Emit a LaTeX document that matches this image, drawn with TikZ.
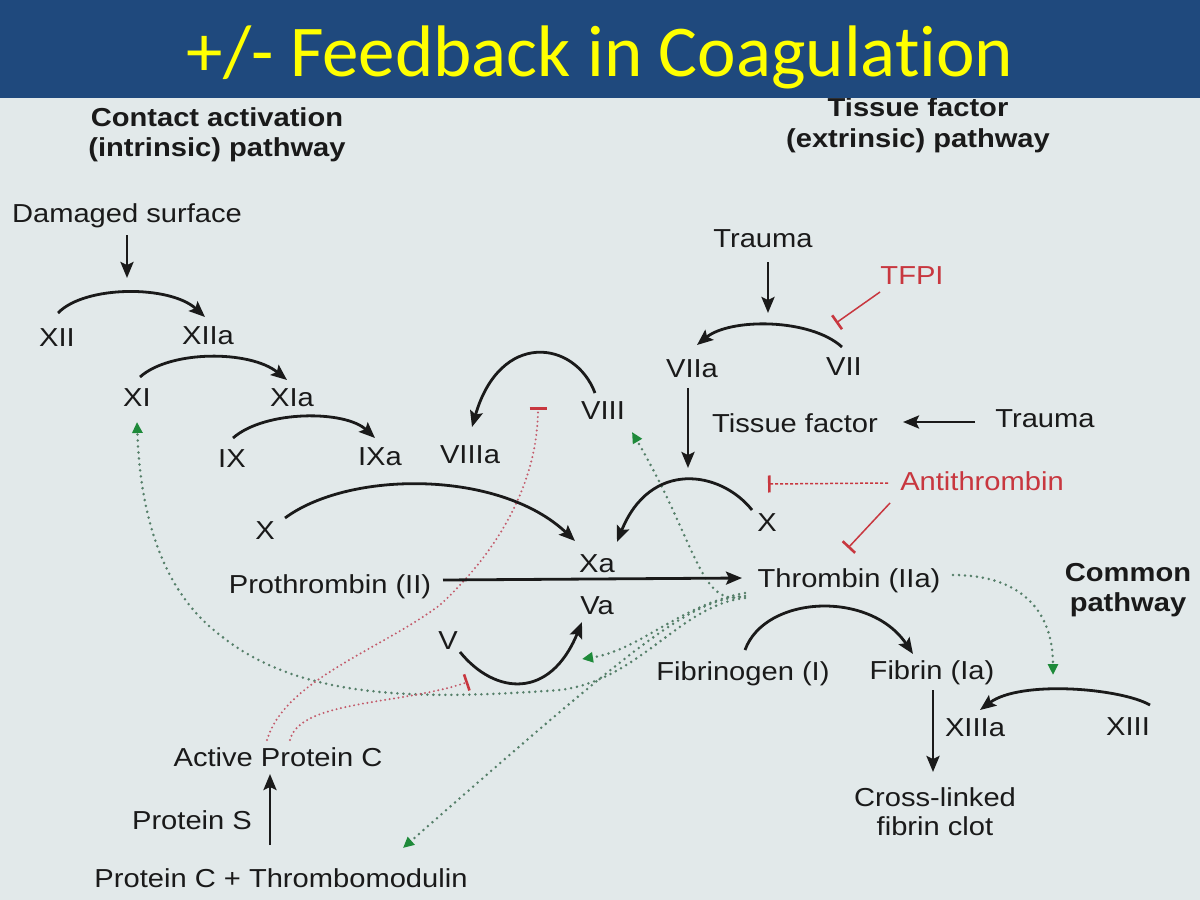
\documentclass[tikz,border=0pt]{standalone}
\usepackage{fontspec}
\setmainfont{Liberation Sans}[FakeStretch=1.12]
\newfontfamily\titlefont{Carlito}[Ligatures={NoCommon,NoRare},Contextuals=NoAlternate]
\usetikzlibrary{arrows.meta,calc}
\definecolor{bgc}{HTML}{E2E9EA}
\definecolor{barc}{HTML}{1F497D}
\definecolor{ink}{HTML}{1A1A1A}
\definecolor{redc}{HTML}{C8373F}
\definecolor{reddot}{HTML}{C35A6A}
\definecolor{grndot}{HTML}{557F69}
\definecolor{grntip}{HTML}{1E8A3A}
\definecolor{ttl}{HTML}{FFFF00}
\tikzset{
  lbl/.style={font=\fontsize{26}{30}\selectfont, text=ink, inner sep=0pt, anchor=base},
  hdr/.style={lbl, font=\fontsize{26}{30}\selectfont\bfseries},
  redlbl/.style={lbl, text=redc},
  conv/.style={draw=ink, line width=2.8pt, -{Stealth[length=16pt,width=13pt,inset=3pt]}},
  inhib/.style={draw=redc, line width=1.5pt, -{Bar[width=17pt,line width=2.6pt]}},
  inhibdash/.style={inhib, dash pattern=on 3pt off 2pt},
  apcdot/.style={draw=reddot, line width=2.2pt, line cap=round, dash pattern=on 0pt off 4.5pt, -{Bar[width=17pt,line width=2.6pt,color=redc]}},
  thrdot/.style={draw=grndot, line width=2.8pt, line cap=round, dash pattern=on 0pt off 6pt, -{Triangle[length=11pt,width=10pt,color=grntip]}}
}
\begin{document}
\begin{tikzpicture}[x=1pt,y=-1pt]
\useasboundingbox (0,0) rectangle (1200,900);
\fill[bgc] (0,0) rectangle (1200,900);

% headers
\node[hdr] (hInt1) at (217,126) {Contact activation};
\node[hdr] (hInt2) at (217,156) {(intrinsic) pathway};
\node[hdr] (hExt1) at (918,116) {Tissue factor};
\node[hdr] (hExt2) at (918,147) {(extrinsic) pathway};
\node[hdr] (hCom1) at (1128,581) {Common};
\node[hdr] (hCom2) at (1128,611) {pathway};

% title bar
\fill[barc] (0,0) rectangle (1200,98);
\node[font=\titlefont\fontsize{73}{80}\selectfont, text=ttl, anchor=base, inner sep=0pt] (title) at (600,76) {+/- Feedback in Coagulation};

% labels
\node[lbl] (dam) at (127,222) {Damaged surface};
\node[lbl] (XII) at (57,346) {XII};
\node[lbl] (XIIa) at (208,344) {XIIa};
\node[lbl] (XI) at (137,406) {XI};
\node[lbl] (XIa) at (292,406) {XIa};
\node[lbl] (IX) at (232,467) {IX};
\node[lbl] (IXa) at (380,465) {IXa};
\node[lbl] (VIIIa) at (470,463) {VIIIa};
\node[lbl] (VIII) at (603,419) {VIII};
\node[lbl] (X1) at (265,539) {X};
\node[lbl] (Xa) at (597,572) {Xa};
\node[lbl] (Va) at (597,614) {Va};
\node[lbl] (pro) at (330,593) {Prothrombin (II)};
\node[lbl] (thr) at (849,587) {Thrombin (IIa)};
\node[lbl] (V) at (448,649) {V};
\node[lbl] (trauma1) at (763,247) {Trauma};
\node[redlbl] (TFPI) at (912,284) {TFPI};
\node[lbl] (VIIa) at (692,377) {VIIa};
\node[lbl] (VII) at (844,375) {VII};
\node[lbl] (tf) at (795,432) {Tissue factor};
\node[lbl] (trauma2) at (1045,427) {Trauma};
\node[lbl] (X2) at (767,531) {X};
\node[redlbl] (AT) at (982,490) {Antithrombin};
\node[lbl] (fbg) at (743,680) {Fibrinogen (I)};
\node[lbl] (fib) at (932,679) {Fibrin (Ia)};
\node[lbl] (XIIIa) at (975,736) {XIIIa};
\node[lbl] (XIII) at (1128,735) {XIII};
\node[lbl] (clot1) at (935,806) {Cross-linked};
\node[lbl] (clot2) at (935,835) {fibrin clot};
\node[lbl] (APC) at (278,766) {Active Protein C};
\node[lbl] (PS) at (192,829) {Protein S};
\node[lbl] (PCT) at (281,887) {Protein C + Thrombomodulin};

% green dotted thrombin feedback
\draw[thrdot] ($(thr.base)+(-104,6)$) .. controls (680,605) and (640,650) .. ($(Va.base)+(-15,45)$);
\draw[thrdot] ($(thr.base)+(-104,9)$) .. controls (690,600) and (640,640) .. ($(PCT.base)+(122,-39)$);
\draw[thrdot] ($(thr.base)+(-109,10)$) .. controls (700,605) and (695,540) .. ($(VIII.base)+(29,13)$);
\draw[thrdot] ($(thr.base)+(-104,11)$) .. controls (680,605) and (640,680) .. (560,690)
   .. controls (420,700) and (300,700) .. (220,635)
   .. controls (160,590) and (140,510) .. ($(XI.base)+(0,16)$);
\draw[thrdot] ($(thr.base)+(104,-12)$) .. controls (1020,575) and (1053,610) .. ($(XIII.base)+(-75,-60)$);

% red dotted APC inhibition
\draw[apcdot] ($(APC.base)+(-11,-26)$) .. controls (285,680) and (380,650) .. (440,605)
   .. controls (510,540) and (538,470) .. ($(VIII.base)+(-65,-12)$);
\draw[apcdot] ($(APC.base)+(12,-26)$) .. controls (300,700) and (400,705) .. ($(V.base)+(20,33)$);

% red inhibitors
\draw[inhib] ($(TFPI.base)+(-32,8)$) -- ($(TFPI.base)+(-76,39)$);
\draw[inhibdash] ($(AT.base)+(-94,-7)$) -- ($(AT.base)+(-214,-6)$);
\draw[inhib] ($(AT.base)+(-92,13)$) -- ($(AT.base)+(-134,58)$);

% conversion arcs
\draw[conv] ($(XII.base)+(1,-33)$) .. controls (85,285) and (170,285) .. ($(XIIa.base)+(-3,-27)$);
\draw[conv] ($(XI.base)+(3,-29)$) .. controls (170,350) and (250,350) .. ($(XIa.base)+(-5,-26)$);
\draw[conv] ($(IX.base)+(1,-29)$) .. controls (265,410) and (345,410) .. ($(IXa.base)+(-5,-27)$);
\draw[conv] ($(VIII.base)+(-8,-26)$) .. controls (575,340) and (500,330) .. ($(VIIIa.base)+(2,-36)$);
\draw[conv] ($(X1.base)+(20,-21)$) .. controls (350,470) and (500,470) .. ($(Xa.base)+(-22,-31)$);
\draw[conv] ($(X2.base)+(-15,-21)$) .. controls (720,470) and (650,460) .. ($(Xa.base)+(20,-30)$);
\draw[conv] ($(V.base)+(12,3)$) .. controls (495,695) and (550,700) .. ($(Va.base)+(-15,8)$);
\draw[conv] ($(VII.base)+(-2,-28)$) .. controls (810,318) and (730,318) .. ($(VIIa.base)+(5,-32)$);
\draw[conv] ($(fbg.base)+(2,-30)$) .. controls (765,595) and (870,590) .. ($(fib.base)+(-19,-25)$);
\draw[conv] ($(XIII.base)+(22,-30)$) .. controls (1120,688) and (1020,680) .. ($(XIIIa.base)+(5,-26)$);

% straight arrows
\draw[conv] ($(dam.base)+(0,13)$) -- ($(dam.base)+(0,56)$);
\draw[conv] ($(trauma1.base)+(5,15)$) -- ($(trauma1.base)+(5,66)$);
\draw[conv] ($(VIIa.base)+(-4,11)$) -- ($(VIIa.base)+(-4,91)$);
\draw[conv] ($(trauma2.base)+(-70,-5)$) -- ($(tf.base)+(108,-10)$);
\draw[conv] ($(pro.base)+(113,-13)$) -- ($(thr.base)+(-107,-9)$);
\draw[conv] ($(fib.base)+(1,11)$) -- ($(clot1.base)+(-2,-34)$);
\draw[conv] ($(PCT.base)+(-11,-42)$) -- ($(APC.base)+(-8,8)$);
\end{tikzpicture}
\end{document}
